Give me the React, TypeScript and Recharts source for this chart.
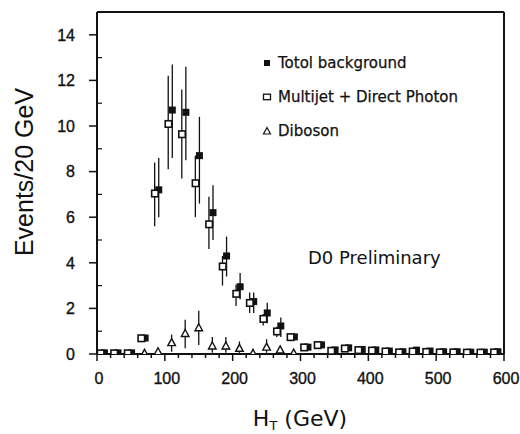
import { ScatterChart, Scatter, XAxis, YAxis, ErrorBar } from 'recharts'

// H_T distribution, 20 GeV bins
const binCenters = [
  10, 30, 50, 70, 90, 110, 130, 150, 170, 190, 210, 230, 250, 270, 290,
  310, 330, 350, 370, 390, 410, 430, 450, 470, 490, 510, 530, 550, 570, 590,
]

const totalValues = [
  0.05, 0.05, 0.05, 0.7, 7.2, 10.7, 10.6, 8.7, 6.2, 4.3, 2.95, 2.3, 1.8, 1.23, 0.75,
  0.3, 0.4, 0.18, 0.27, 0.2, 0.18, 0.13, 0.1, 0.17, 0.13, 0.1, 0.1, 0.08, 0.08, 0.1,
]
const totalErrLow = [
  0, 0, 0, 0, 1.2, 2.1, 2.1, 2.1, 1.2, 0.9, 0.55, 0.5, 0.45, 0.48, 0.15,
  0, 0, 0, 0, 0, 0, 0, 0, 0, 0, 0, 0, 0, 0, 0,
]
const totalErrHigh = [
  0, 0, 0, 0, 1.4, 2.0, 2.0, 1.7, 1.2, 0.85, 0.6, 0.4, 0.45, 0.37, 0.15,
  0, 0, 0, 0, 0, 0, 0, 0, 0, 0, 0, 0, 0, 0, 0,
]

const multijetValues = [
  0.04, 0.04, 0.04, 0.7, 7.05, 10.1, 9.65, 7.5, 5.7, 3.85, 2.65, 2.25, 1.55, 1.0, 0.75,
  0.3, 0.4, 0.15, 0.25, 0.18, 0.16, 0.12, 0.08, 0.12, 0.1, 0.08, 0.08, 0.07, 0.07, 0.08,
]
const multijetErrLow = [
  0, 0, 0, 0, 1.45, 2.0, 1.95, 1.5, 1.1, 0.85, 0.55, 0.45, 0.3, 0.25, 0,
  0, 0, 0, 0, 0, 0, 0, 0, 0, 0, 0, 0, 0, 0, 0,
]
const multijetErrHigh = [
  0, 0, 0, 0, 1.35, 2.1, 1.95, 1.2, 1.2, 0.45, 0.4, 0.45, 0.2, 0.2, 0,
  0, 0, 0, 0, 0, 0, 0, 0, 0, 0, 0, 0, 0, 0, 0,
]

const dibosonCenters = [70, 90, 110, 130, 150, 170, 190, 210, 230, 250, 270, 290]
const dibosonValues = [0.03, 0.1, 0.5, 0.9, 1.15, 0.35, 0.35, 0.25, 0.03, 0.3, 0.18, 0.04]
const dibosonErrLow = [0, 0, 0.4, 0.65, 0.75, 0.3, 0.3, 0.2, 0, 0.25, 0.15, 0]
const dibosonErrHigh = [0, 0, 0.35, 0.6, 0.75, 0.4, 0.4, 0.3, 0, 0.35, 0.1, 0]

const seriesNames = ['Totol background', 'Multijet + Direct Photon', 'Diboson']

const xTicks = [
  0, 20, 40, 60, 80, 100, 120, 140, 160, 180, 200, 220, 240, 260, 280, 300,
  320, 340, 360, 380, 400, 420, 440, 460, 480, 500, 520, 540, 560, 580, 600,
]
const yTicks = [0, 1, 2, 3, 4, 5, 6, 7, 8, 9, 10, 11, 12, 13, 14]

// markers of the two overlapping series are drawn side by side
const FILLED_SHIFT = 1
const OPEN_SHIFT = -5

const toPoints = (centers: number[], values: number[], lo: number[], hi: number[], shift: number) =>
  centers.map((c, i) => ({ x: c + shift, y: values[i], err: [lo[i], hi[i]] }))

const totalPoints = toPoints(binCenters, totalValues, totalErrLow, totalErrHigh, FILLED_SHIFT)
const multijetPoints = toPoints(binCenters, multijetValues, multijetErrLow, multijetErrHigh, OPEN_SHIFT)
const dibosonPoints = toPoints(dibosonCenters, dibosonValues, dibosonErrLow, dibosonErrHigh, 0)

const INK = '#111'
const TICK_FONT = '"Liberation Sans", Arial, sans-serif'
const TEXT_FONT = '"DejaVu Sans", sans-serif'

const FilledSquare = (p: any) => (
  <rect x={p.cx - 3.5} y={p.cy - 3.5} width={7} height={7} fill={INK} />
)
const OpenSquare = (p: any) => (
  <rect x={p.cx - 3} y={p.cy - 3} width={6.5} height={6.5} fill="#fff" stroke={INK} strokeWidth={1.6} />
)
const OpenTriangle = (p: any) => (
  <path
    d={`M${p.cx},${p.cy - 4} L${p.cx + 3.8},${p.cy + 3} L${p.cx - 3.8},${p.cy + 3} Z`}
    fill="#fff"
    stroke={INK}
    strokeWidth={1.4}
  />
)

const XTick = ({ x, y, payload }: any) => {
  const major = payload.value % 100 === 0
  return (
    <g>
      <line x1={x} x2={x} y1={y} y2={y + (major ? 7 : 4)} stroke={INK} strokeWidth={1.5} />
      {major && (
        <text
          x={x + 2}
          y={y + 30}
          textAnchor="middle"
          fontFamily={TICK_FONT}
          fontSize={16}
          fill={INK}
          stroke={INK}
          strokeWidth={0.35}
        >
          {payload.value}
        </text>
      )}
    </g>
  )
}

const YTick = ({ x, y, payload }: any) => {
  const major = payload.value % 2 === 0
  return (
    <g>
      {major ? (
        <line x1={x - 8} x2={x} y1={y} y2={y} stroke={INK} strokeWidth={1.5} />
      ) : (
        <line x1={x} x2={x + 5} y1={y} y2={y} stroke={INK} strokeWidth={1.2} />
      )}
      {major && (
        <text
          x={x - 22}
          y={y}
          dy="0.36em"
          textAnchor="end"
          fontFamily={TICK_FONT}
          fontSize={16}
          fill={INK}
          stroke={INK}
          strokeWidth={0.35}
        >
          {payload.value}
        </text>
      )}
    </g>
  )
}

const RightTick = ({ x, y, payload }: any) =>
  payload.value === 0 ? <g /> : (
    <line x1={x - (payload.value % 2 === 0 ? 6 : 4)} x2={x} y1={y} y2={y} stroke={INK} strokeWidth={1.2} />
  )

const legendIcons = [
  <rect key="t" x={-3} y={-3} width={6} height={6} fill={INK} />,
  <rect key="m" x={-3.5} y={-2.8} width={7} height={5.5} fill="#fff" stroke={INK} strokeWidth={1.3} />,
  <path key="d" d="M0,-3.5 L3.5,3 L-3.5,3 Z" fill="#fff" stroke={INK} strokeWidth={1.2} />,
]

export default function App() {
  return (
    <div style={{ position: 'absolute', left: 0, top: 0, width: 520, height: 434, background: '#fff' }}>
      <ScatterChart width={520} height={434} margin={{ top: 11, right: 15, bottom: 79, left: 96 }}>
        <XAxis
          xAxisId="b"
          type="number"
          dataKey="x"
          domain={[0, 600]}
          ticks={xTicks}
          interval={0}
          tick={<XTick />}
          tickLine={false}
          tickSize={0}
          tickMargin={0}
          height={1}
          allowDataOverflow
          axisLine={{ stroke: INK, strokeWidth: 2 }}
        />
        <XAxis
          xAxisId="t"
          orientation="top"
          type="number"
          domain={[0, 600]}
          tick={false}
          tickLine={false}
          height={1}
          axisLine={{ stroke: INK, strokeWidth: 2 }}
        />
        <YAxis
          yAxisId="l"
          type="number"
          dataKey="y"
          domain={[0, 15]}
          ticks={yTicks}
          interval={0}
          tick={<YTick />}
          tickLine={false}
          tickSize={0}
          tickMargin={0}
          width={1}
          allowDataOverflow
          axisLine={{ stroke: INK, strokeWidth: 2 }}
        />
        <YAxis
          yAxisId="r"
          orientation="right"
          type="number"
          domain={[0, 15]}
          ticks={yTicks}
          interval={0}
          tick={<RightTick />}
          tickLine={false}
          tickSize={0}
          tickMargin={0}
          width={1}
          axisLine={{ stroke: INK, strokeWidth: 2 }}
        />
        <Scatter
          xAxisId="b"
          yAxisId="l"
          name={seriesNames[0]}
          data={totalPoints}
          shape={FilledSquare}
          isAnimationActive={false}
        >
          <ErrorBar dataKey="err" direction="y" width={0} stroke={INK} strokeWidth={1.3} />
        </Scatter>
        <Scatter
          xAxisId="b"
          yAxisId="l"
          name={seriesNames[1]}
          data={multijetPoints}
          shape={OpenSquare}
          isAnimationActive={false}
        >
          <ErrorBar dataKey="err" direction="y" width={0} stroke={INK} strokeWidth={1.3} />
        </Scatter>
        <Scatter
          xAxisId="b"
          yAxisId="l"
          name={seriesNames[2]}
          data={dibosonPoints}
          shape={OpenTriangle}
          isAnimationActive={false}
        >
          <ErrorBar dataKey="err" direction="y" width={0} stroke={INK} strokeWidth={1.3} />
        </Scatter>
      </ScatterChart>
      <svg
        width={520}
        height={434}
        style={{ position: 'absolute', left: 0, top: 0, pointerEvents: 'none' }}
      >
        <text
          transform="translate(33,172) rotate(-90)"
          textAnchor="middle"
          fontFamily={TICK_FONT}
          fontSize={25}
          fill={INK}
        >
          Events/20 GeV
        </text>
        <text x={300} y={426} textAnchor="middle" fontFamily={TEXT_FONT} fontSize={22} fill={INK}>
          H<tspan fontSize={13} dy={4}>T</tspan>
          <tspan dy={-4}> (GeV)</tspan>
        </text>
        <text x={308} y={264} fontFamily={TEXT_FONT} fontSize={18} fill={INK}>
          D0 Preliminary
        </text>
        {seriesNames.map((name, i) => (
          <g key={name} transform={`translate(267,${63 + i * 34})`}>
            {legendIcons[i]}
            <text x={11} y={0} dy="0.36em" fontFamily={TEXT_FONT} fontSize={15} fill={INK} stroke={INK} strokeWidth={0.25}>
              {name}
            </text>
          </g>
        ))}
      </svg>
    </div>
  )
}
